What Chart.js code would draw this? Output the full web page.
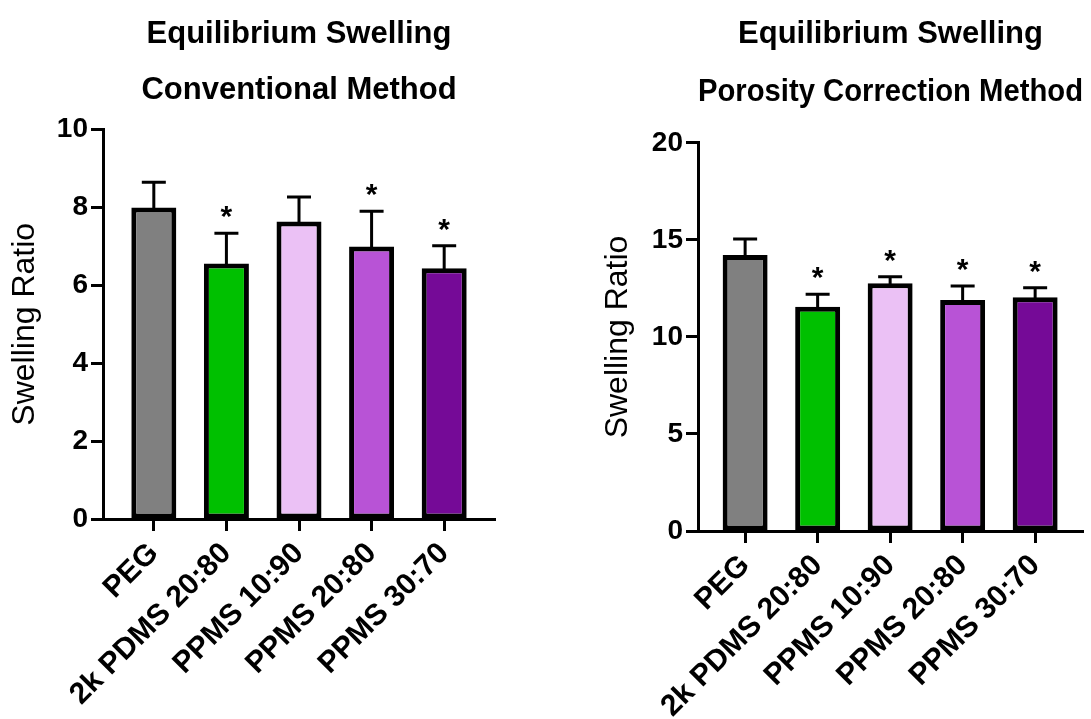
<!DOCTYPE html>
<html>
<head>
<meta charset="utf-8">
<script src="https://cdn.jsdelivr.net/npm/chart.js@4/dist/chart.umd.min.js"></script>
<style>
  html, body { margin: 0; padding: 0; background: #fff; overflow: hidden; }
  .box { position: absolute; top: 0; height: 719px; }
  #left { left: 0; width: 545px; }
  #right { left: 545px; width: 546px; }
</style>
</head>
<body>
<div class="box" id="left"><canvas id="convChart"></canvas></div>
<div class="box" id="right"><canvas id="porChart"></canvas></div>
<script>
const categories = ['PEG', '2k PDMS 20:80', 'PPMS 10:90', 'PPMS 20:80', 'PPMS 30:70'];
const barColors = ['#808080', '#00C000', '#EBC1F5', '#B853D6', '#750A97'];

// Conventional method
const convMean = [8.0, 6.56, 7.64, 7.0, 6.44];
const convSD = [0.65, 0.78, 0.63, 0.9, 0.58];
const convStar = [false, true, false, true, true];
const convTicks = [0, 2, 4, 6, 8, 10];

// Porosity correction method
const porMean = [14.23, 11.56, 12.77, 11.9, 12.05];
const porSD = [0.82, 0.64, 0.34, 0.73, 0.49];
const porStar = [false, true, true, true, true];
const porTicks = [0, 5, 10, 15, 20];

const FONT = 'Liberation Sans, Arial, sans-serif';

// error bars (upper only) + asterisks
const errorBars = {
    id: 'errorBars',
    afterDatasetsDraw(chart, args, opts) {
        const ctx = chart.ctx;
        const y = chart.scales.y;
        const meta = chart.getDatasetMeta(0);
        ctx.save();
        ctx.strokeStyle = '#000';
        ctx.lineWidth = 3;
        ctx.fillStyle = '#000';
        ctx.font = 'bold 30px ' + FONT;
        ctx.textAlign = 'center';
        ctx.textBaseline = 'alphabetic';
        meta.data.forEach((bar, i) => {
            const yBar = y.getPixelForValue(opts.mean[i]) + 2;
            const yTop = y.getPixelForValue(opts.mean[i] + opts.sd[i]);
            ctx.beginPath();
            ctx.moveTo(bar.x, yBar);
            ctx.lineTo(bar.x, yTop);
            ctx.moveTo(bar.x - 12, yTop);
            ctx.lineTo(bar.x + 12, yTop);
            ctx.stroke();
            if (opts.star[i]) ctx.fillText('*', bar.x, yTop - 7);
        });
        ctx.restore();
    }
};

function makeChart(id, mean, sd, star, ticks, titleLines, cfg) {
    new Chart(document.getElementById(id), {
        type: 'bar',
        data: {
            datasets: [{
                data: mean.map((v, i) => ({ x: i, y: v })),
                backgroundColor: barColors,
                borderColor: '#000',
                borderWidth: 5,
                borderSkipped: false,
                barPercentage: 0.62,
                categoryPercentage: 1
            }]
        },
        options: {
            responsive: true,
            maintainAspectRatio: false,
            animation: false,
            layout: { padding: { left: cfg.padLeft, right: cfg.padRight, top: cfg.padTop, bottom: 0 } },
            scales: {
                x: {
                    type: 'linear',
                    offset: false,
                    min: cfg.xMin,
                    max: cfg.xMax,
                    afterBuildTicks: s => { s.ticks = categories.map((c, i) => ({ value: i })); },
                    afterFit: s => { s.height = cfg.xHeight; },
                    ticks: {
                        callback: v => categories[v],
                        autoSkip: false,
                        minRotation: 45,
                        maxRotation: 45,
                        color: '#000',
                        padding: 5,
                        font: { family: FONT, size: 30, weight: 'bold' }
                    },
                    grid: { offset: false, drawOnChartArea: false, tickLength: 12, tickWidth: 3, color: '#000' },
                    border: { display: true, width: 3, color: '#000' }
                },
                y: {
                    min: 0,
                    max: ticks[ticks.length - 1],
                    afterBuildTicks: s => { s.ticks = ticks.map(v => ({ value: v })); },
                    afterFit: s => { s.width = cfg.yWidth; },
                    ticks: {
                        color: '#000',
                        padding: 3,
                        font: { family: FONT, size: 28, weight: 'bold' }
                    },
                    title: {
                        display: true,
                        text: 'Swelling Ratio',
                        color: '#000',
                        padding: { top: 2, bottom: 0 },
                        font: { family: FONT, size: 32 }
                    },
                    grid: { drawOnChartArea: false, tickLength: 12, tickWidth: 3, color: '#000' },
                    border: { display: true, width: 3, color: '#000' }
                }
            },
            plugins: {
                legend: { display: false },
                tooltip: { enabled: false },
                title: {
                    display: true,
                    fullSize: false,
                    text: titleLines,
                    color: '#000',
                    font: { family: FONT, size: 31, weight: 'bold', lineHeight: cfg.titleLine },
                    padding: { top: 0, bottom: cfg.titleGap }
                },
                errorBars: { mean: mean, sd: sd, star: star }
            }
        },
        plugins: [errorBars]
    });
}

makeChart('convChart', convMean, convSD, convStar, convTicks,
    ['Equilibrium Swelling', 'Conventional Method'],
    { padLeft: 4, padRight: 50, padTop: 7, yWidth: 99, xHeight: 200, xMin: -0.7, xMax: 4.7, titleGap: 11, titleLine: 1.8 });

makeChart('porChart', porMean, porSD, porStar, porTicks,
    ['Equilibrium Swelling', 'Porosity Correction Method'],
    { padLeft: 52, padRight: 8, padTop: 5, yWidth: 101, xHeight: 188, xMin: -0.65, xMax: 4.66, titleGap: 22, titleLine: 1.87 });
</script>
</body>
</html>
